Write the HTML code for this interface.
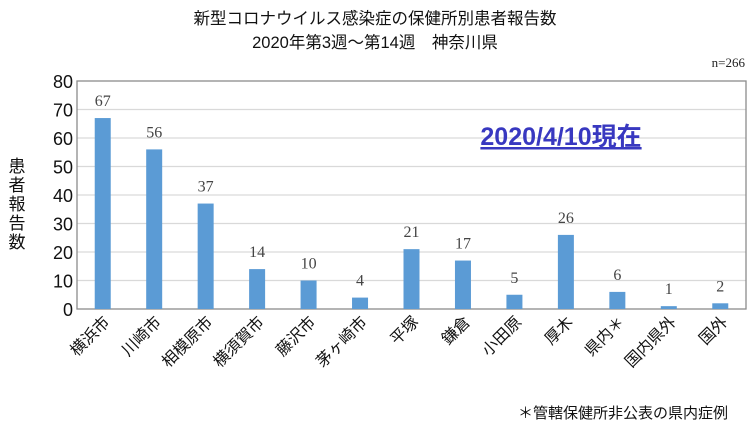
<!DOCTYPE html>
<html><head><meta charset="utf-8"><style>
body{margin:0;background:#fff;}
svg text{font-family:"Liberation Sans","Noto Sans CJK JP",sans-serif;}
</style></head><body>
<svg width="750" height="426" xmlns="http://www.w3.org/2000/svg">
<text x="375" y="24" text-anchor="middle" font-size="16.5" fill="#111">新型コロナウイルス感染症の保健所別患者報告数</text>
<text x="375" y="48" text-anchor="middle" font-size="16.5" fill="#111">2020年第3週～第14週　神奈川県</text>
<text x="745" y="67" text-anchor="end" font-size="13" fill="#222" style="font-family:'Liberation Serif',serif">n=266</text>
<g id="grid"></g>
<g id="bars"></g>
<g id="ylabels"></g>
<g id="xlabels"></g>
<g id="vals"></g>
<g font-size="17" fill="#111">
<text x="17" y="172" text-anchor="middle">患</text>
<text x="17" y="191" text-anchor="middle">者</text>
<text x="17" y="210" text-anchor="middle">報</text>
<text x="17" y="229" text-anchor="middle">告</text>
<text x="17" y="248" text-anchor="middle">数</text>
</g>
<text x="561" y="145" text-anchor="middle" font-size="25" font-weight="bold" fill="#3838c0" text-decoration="underline">2020/4/10現在</text>
<text x="728" y="418" text-anchor="end" font-size="15" fill="#111">＊管轄保健所非公表の県内症例</text>
</svg>
<script>
const categories=["横浜市","川崎市","相模原市","横須賀市","藤沢市","茅ヶ崎市","平塚","鎌倉","小田原","厚木","県内＊","国内県外","国外"];
const values=[67,56,37,14,10,4,21,17,5,26,6,1,2];
const yTicks=[0,10,20,30,40,50,60,70,80];
const NS="http://www.w3.org/2000/svg";
const L=77,R=746,T=81,B=309,YMAX=80;
const y=v=>B-(v/YMAX)*(B-T);
const band=(R-L)/categories.length;
const xc=i=>L+band*(i+0.5);
function mk(tag,attrs,parent,txt){const e=document.createElementNS(NS,tag);for(const k in attrs)e.setAttribute(k,attrs[k]);if(txt!==undefined)e.textContent=txt;document.getElementById(parent).appendChild(e);return e;}
yTicks.forEach(t=>{
  if(t>0&&t<YMAX){const g=mk('line',{x1:L,x2:R,y1:y(t),y2:y(t),stroke:'#d9d9d9','stroke-width':1.3},'grid');
  
  }
  const tl=mk('text',{x:73,y:y(t)+7,'text-anchor':'end','font-size':18,fill:'#111'},'ylabels',String(t));
  
  
});
const fr=mk('rect',{x:L,y:T,width:R-L,height:B-T,fill:'none',stroke:'#8c8c8c','stroke-width':1.3},'grid');


categories.forEach((c,i)=>{
  const v=values[i];
  const b=mk('rect',{x:xc(i)-8,y:y(v),width:16,height:B-y(v),fill:'#5b9bd5'},'bars');
  
  
  const vl=mk('text',{x:xc(i),y:y(v)-12,'text-anchor':'middle','font-size':16,fill:'#444',style:"font-family:'Liberation Serif',serif"},'vals',String(v));
  
  
  const xl=mk('text',{transform:`translate(${xc(i)+8},${B+14}) rotate(-45)`,'text-anchor':'end','font-size':16,fill:'#111'},'xlabels',c);
  
  
});
</script>
</body></html>
